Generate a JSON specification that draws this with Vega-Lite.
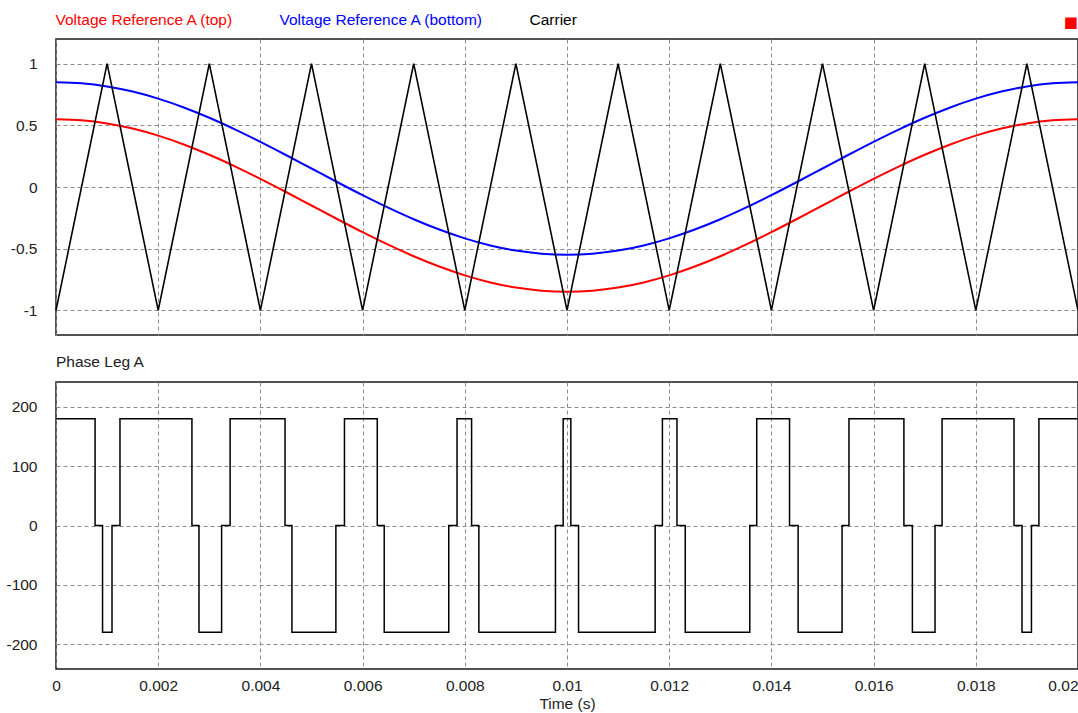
{
  "$schema": "https://vega.github.io/schema/vega-lite/v6.json",
  "background": "white",
  "padding": {"left": 5, "top": 12, "right": 1, "bottom": 0},
  "spacing": 17,
  "config": {
    "font": "Liberation Sans",
    "view": {"stroke": "#1a1a1a", "strokeWidth": 1.5},
    "axis": {
      "labelFont": "Liberation Sans", "labelFontSize": 15.5, "labelColor": "#222",
      "grid": true, "gridColor": "#8c8c8c", "gridDash": [4, 3], "gridWidth": 1,
      "ticks": false, "domain": false,
      "titleFont": "Liberation Sans", "titleFontSize": 15.5, "titleFontWeight": "normal", "titleColor": "#222"
    },
    "title": {"font": "Liberation Sans", "fontWeight": "normal"}
  },
  "datasets": {
    "refs": [
      {"t": 0, "v": 0.55, "s": "Voltage Reference A (top)"},
      {"t": 0.0005, "v": 0.5414, "s": "Voltage Reference A (top)"},
      {"t": 0.001, "v": 0.5157, "s": "Voltage Reference A (top)"},
      {"t": 0.0015, "v": 0.4737, "s": "Voltage Reference A (top)"},
      {"t": 0.002, "v": 0.4163, "s": "Voltage Reference A (top)"},
      {"t": 0.0025, "v": 0.345, "s": "Voltage Reference A (top)"},
      {"t": 0.003, "v": 0.2615, "s": "Voltage Reference A (top)"},
      {"t": 0.0035, "v": 0.1678, "s": "Voltage Reference A (top)"},
      {"t": 0.004, "v": 0.0663, "s": "Voltage Reference A (top)"},
      {"t": 0.0045, "v": -0.0405, "s": "Voltage Reference A (top)"},
      {"t": 0.005, "v": -0.15, "s": "Voltage Reference A (top)"},
      {"t": 0.0055, "v": -0.2595, "s": "Voltage Reference A (top)"},
      {"t": 0.006, "v": -0.3663, "s": "Voltage Reference A (top)"},
      {"t": 0.0065, "v": -0.4678, "s": "Voltage Reference A (top)"},
      {"t": 0.007, "v": -0.5615, "s": "Voltage Reference A (top)"},
      {"t": 0.0075, "v": -0.645, "s": "Voltage Reference A (top)"},
      {"t": 0.008, "v": -0.7163, "s": "Voltage Reference A (top)"},
      {"t": 0.0085, "v": -0.7737, "s": "Voltage Reference A (top)"},
      {"t": 0.009, "v": -0.8157, "s": "Voltage Reference A (top)"},
      {"t": 0.0095, "v": -0.8414, "s": "Voltage Reference A (top)"},
      {"t": 0.01, "v": -0.85, "s": "Voltage Reference A (top)"},
      {"t": 0.0105, "v": -0.8414, "s": "Voltage Reference A (top)"},
      {"t": 0.011, "v": -0.8157, "s": "Voltage Reference A (top)"},
      {"t": 0.0115, "v": -0.7737, "s": "Voltage Reference A (top)"},
      {"t": 0.012, "v": -0.7163, "s": "Voltage Reference A (top)"},
      {"t": 0.0125, "v": -0.645, "s": "Voltage Reference A (top)"},
      {"t": 0.013, "v": -0.5615, "s": "Voltage Reference A (top)"},
      {"t": 0.0135, "v": -0.4678, "s": "Voltage Reference A (top)"},
      {"t": 0.014, "v": -0.3663, "s": "Voltage Reference A (top)"},
      {"t": 0.0145, "v": -0.2595, "s": "Voltage Reference A (top)"},
      {"t": 0.015, "v": -0.15, "s": "Voltage Reference A (top)"},
      {"t": 0.0155, "v": -0.0405, "s": "Voltage Reference A (top)"},
      {"t": 0.016, "v": 0.0663, "s": "Voltage Reference A (top)"},
      {"t": 0.0165, "v": 0.1678, "s": "Voltage Reference A (top)"},
      {"t": 0.017, "v": 0.2615, "s": "Voltage Reference A (top)"},
      {"t": 0.0175, "v": 0.345, "s": "Voltage Reference A (top)"},
      {"t": 0.018, "v": 0.4163, "s": "Voltage Reference A (top)"},
      {"t": 0.0185, "v": 0.4737, "s": "Voltage Reference A (top)"},
      {"t": 0.019, "v": 0.5157, "s": "Voltage Reference A (top)"},
      {"t": 0.0195, "v": 0.5414, "s": "Voltage Reference A (top)"},
      {"t": 0.02, "v": 0.55, "s": "Voltage Reference A (top)"},
      {"t": 0, "v": 0.85, "s": "Voltage Reference A (bottom)"},
      {"t": 0.0005, "v": 0.8414, "s": "Voltage Reference A (bottom)"},
      {"t": 0.001, "v": 0.8157, "s": "Voltage Reference A (bottom)"},
      {"t": 0.0015, "v": 0.7737, "s": "Voltage Reference A (bottom)"},
      {"t": 0.002, "v": 0.7163, "s": "Voltage Reference A (bottom)"},
      {"t": 0.0025, "v": 0.645, "s": "Voltage Reference A (bottom)"},
      {"t": 0.003, "v": 0.5615, "s": "Voltage Reference A (bottom)"},
      {"t": 0.0035, "v": 0.4678, "s": "Voltage Reference A (bottom)"},
      {"t": 0.004, "v": 0.3663, "s": "Voltage Reference A (bottom)"},
      {"t": 0.0045, "v": 0.2595, "s": "Voltage Reference A (bottom)"},
      {"t": 0.005, "v": 0.15, "s": "Voltage Reference A (bottom)"},
      {"t": 0.0055, "v": 0.0405, "s": "Voltage Reference A (bottom)"},
      {"t": 0.006, "v": -0.0663, "s": "Voltage Reference A (bottom)"},
      {"t": 0.0065, "v": -0.1678, "s": "Voltage Reference A (bottom)"},
      {"t": 0.007, "v": -0.2615, "s": "Voltage Reference A (bottom)"},
      {"t": 0.0075, "v": -0.345, "s": "Voltage Reference A (bottom)"},
      {"t": 0.008, "v": -0.4163, "s": "Voltage Reference A (bottom)"},
      {"t": 0.0085, "v": -0.4737, "s": "Voltage Reference A (bottom)"},
      {"t": 0.009, "v": -0.5157, "s": "Voltage Reference A (bottom)"},
      {"t": 0.0095, "v": -0.5414, "s": "Voltage Reference A (bottom)"},
      {"t": 0.01, "v": -0.55, "s": "Voltage Reference A (bottom)"},
      {"t": 0.0105, "v": -0.5414, "s": "Voltage Reference A (bottom)"},
      {"t": 0.011, "v": -0.5157, "s": "Voltage Reference A (bottom)"},
      {"t": 0.0115, "v": -0.4737, "s": "Voltage Reference A (bottom)"},
      {"t": 0.012, "v": -0.4163, "s": "Voltage Reference A (bottom)"},
      {"t": 0.0125, "v": -0.345, "s": "Voltage Reference A (bottom)"},
      {"t": 0.013, "v": -0.2615, "s": "Voltage Reference A (bottom)"},
      {"t": 0.0135, "v": -0.1678, "s": "Voltage Reference A (bottom)"},
      {"t": 0.014, "v": -0.0663, "s": "Voltage Reference A (bottom)"},
      {"t": 0.0145, "v": 0.0405, "s": "Voltage Reference A (bottom)"},
      {"t": 0.015, "v": 0.15, "s": "Voltage Reference A (bottom)"},
      {"t": 0.0155, "v": 0.2595, "s": "Voltage Reference A (bottom)"},
      {"t": 0.016, "v": 0.3663, "s": "Voltage Reference A (bottom)"},
      {"t": 0.0165, "v": 0.4678, "s": "Voltage Reference A (bottom)"},
      {"t": 0.017, "v": 0.5615, "s": "Voltage Reference A (bottom)"},
      {"t": 0.0175, "v": 0.645, "s": "Voltage Reference A (bottom)"},
      {"t": 0.018, "v": 0.7163, "s": "Voltage Reference A (bottom)"},
      {"t": 0.0185, "v": 0.7737, "s": "Voltage Reference A (bottom)"},
      {"t": 0.019, "v": 0.8157, "s": "Voltage Reference A (bottom)"},
      {"t": 0.0195, "v": 0.8414, "s": "Voltage Reference A (bottom)"},
      {"t": 0.02, "v": 0.85, "s": "Voltage Reference A (bottom)"}
    ],
    "carrier": [
      {"t": 0, "v": -1, "s": "Carrier"}, {"t": 0.001, "v": 1, "s": "Carrier"},
      {"t": 0.002, "v": -1, "s": "Carrier"}, {"t": 0.003, "v": 1, "s": "Carrier"},
      {"t": 0.004, "v": -1, "s": "Carrier"}, {"t": 0.005, "v": 1, "s": "Carrier"},
      {"t": 0.006, "v": -1, "s": "Carrier"}, {"t": 0.007, "v": 1, "s": "Carrier"},
      {"t": 0.008, "v": -1, "s": "Carrier"}, {"t": 0.009, "v": 1, "s": "Carrier"},
      {"t": 0.01, "v": -1, "s": "Carrier"}, {"t": 0.011, "v": 1, "s": "Carrier"},
      {"t": 0.012, "v": -1, "s": "Carrier"}, {"t": 0.013, "v": 1, "s": "Carrier"},
      {"t": 0.014, "v": -1, "s": "Carrier"}, {"t": 0.015, "v": 1, "s": "Carrier"},
      {"t": 0.016, "v": -1, "s": "Carrier"}, {"t": 0.017, "v": 1, "s": "Carrier"},
      {"t": 0.018, "v": -1, "s": "Carrier"}, {"t": 0.019, "v": 1, "s": "Carrier"},
      {"t": 0.02, "v": -1, "s": "Carrier"}
    ],
    "leg": [
      {"t": 0, "v": 180}, {"t": 0.000765, "v": 0}, {"t": 0.000911, "v": -180}, {"t": 0.001096, "v": 0},
      {"t": 0.001252, "v": 180}, {"t": 0.00266, "v": 0}, {"t": 0.002798, "v": -180}, {"t": 0.003241, "v": 0},
      {"t": 0.003407, "v": 180}, {"t": 0.004482, "v": 0}, {"t": 0.004617, "v": -180}, {"t": 0.005477, "v": 0},
      {"t": 0.005645, "v": 180}, {"t": 0.006287, "v": 0}, {"t": 0.006423, "v": -180}, {"t": 0.007686, "v": 0},
      {"t": 0.007848, "v": 180}, {"t": 0.008133, "v": 0}, {"t": 0.008275, "v": -180}, {"t": 0.009774, "v": 0},
      {"t": 0.009925, "v": 180}, {"t": 0.010075, "v": 0}, {"t": 0.010226, "v": -180}, {"t": 0.011725, "v": 0},
      {"t": 0.011867, "v": 180}, {"t": 0.012152, "v": 0}, {"t": 0.012314, "v": -180}, {"t": 0.013577, "v": 0},
      {"t": 0.013713, "v": 180}, {"t": 0.014355, "v": 0}, {"t": 0.014523, "v": -180}, {"t": 0.015383, "v": 0},
      {"t": 0.015518, "v": 180}, {"t": 0.016593, "v": 0}, {"t": 0.016759, "v": -180}, {"t": 0.017202, "v": 0},
      {"t": 0.01734, "v": 180}, {"t": 0.018748, "v": 0}, {"t": 0.018904, "v": -180}, {"t": 0.019089, "v": 0},
      {"t": 0.019235, "v": 180}, {"t": 0.02, "v": 180}
    ]
  },
  "vconcat": [
    {
      "width": 1022,
      "height": 296,
      "title": {"text": "■", "anchor": "end", "frame": "group", "color": "#ff0000", "fontSize": 15, "offset": 9, "font": "DejaVu Sans"},
      "layer": [
        {
          "data": {"name": "refs"},
          "mark": {"type": "line", "strokeWidth": 2, "interpolate": "monotone"},
          "encoding": {
            "x": {"field": "t", "type": "quantitative", "scale": {"domain": [0, 0.02], "nice": false},
              "axis": {"values": [0, 0.002, 0.004, 0.006, 0.008, 0.01, 0.012, 0.014, 0.016, 0.018, 0.02], "labels": false, "title": null}},
            "y": {"field": "v", "type": "quantitative", "scale": {"domain": [-1.2, 1.2], "nice": false},
              "axis": {"values": [-1, -0.5, 0, 0.5, 1], "labelExpr": "'' + datum.value", "title": null, "labelPadding": 19, "minExtent": 50, "maxExtent": 50}},
            "color": {"field": "s", "type": "nominal",
              "scale": {"domain": ["Voltage Reference A (top)", "Voltage Reference A (bottom)", "Carrier"], "range": ["#ff0000", "#0000ff", "#000000"]},
              "legend": {"orient": "none", "legendX": -16, "legendY": -27, "direction": "horizontal", "columns": 3, "title": null,
                "symbolSize": 0, "symbolStrokeWidth": 0, "symbolOpacity": 0, "labelOffset": 0, "columnPadding": 30,
                "labelFont": "Liberation Sans", "labelFontSize": 15.5, "labelLimit": 400,
                "encode": {"labels": {"update": {"fill": {"signal": "datum.label === 'Carrier' ? '#000000' : (datum.label === 'Voltage Reference A (top)' ? '#ff0000' : '#0000ff')"}}}}}
            }
          }
        },
        {
          "data": {"name": "carrier"},
          "mark": {"type": "line", "strokeWidth": 1.6},
          "encoding": {
            "x": {"field": "t", "type": "quantitative"},
            "y": {"field": "v", "type": "quantitative"},
            "color": {"field": "s", "type": "nominal"}
          }
        }
      ]
    },
    {
      "width": 1022,
      "height": 287,
      "title": {"text": "Phase Leg A", "anchor": "start", "frame": "group", "color": "#222", "fontSize": 15.5, "fontWeight": "normal", "offset": 12},
      "data": {"name": "leg"},
      "mark": {"type": "line", "strokeWidth": 1.5, "color": "#000000", "interpolate": "step-after"},
      "encoding": {
        "x": {"field": "t", "type": "quantitative", "scale": {"domain": [0, 0.02], "nice": false},
          "axis": {"values": [0, 0.002, 0.004, 0.006, 0.008, 0.01, 0.012, 0.014, 0.016, 0.018, 0.02], "labelExpr": "'' + datum.value",
            "labelAlign": {"condition": {"test": "datum.value >= 0.02", "value": "right"}, "value": "center"},
            "labelPadding": 9, "title": "Time (s)", "titlePadding": 3}},
        "y": {"field": "v", "type": "quantitative", "scale": {"domain": [-242, 242], "nice": false},
          "axis": {"values": [-200, -100, 0, 100, 200], "labelExpr": "'' + datum.value", "title": null, "labelPadding": 19, "minExtent": 50, "maxExtent": 50}}
      }
    }
  ]
}
